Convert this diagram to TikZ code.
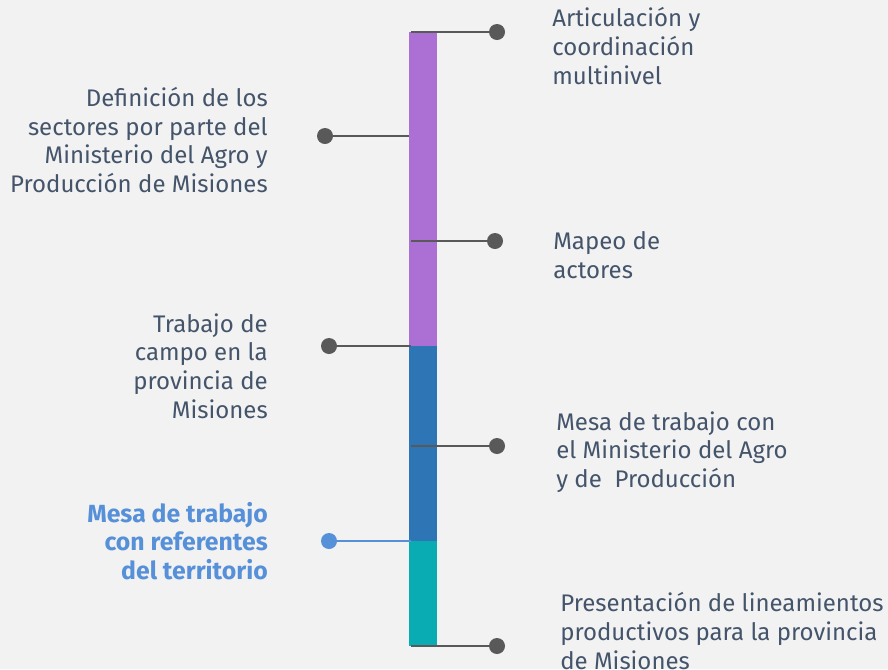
\documentclass[tikz,border=0pt]{standalone}
\usepackage{fontspec}
\setmainfont{Fira Sans}
\definecolor{bg}{HTML}{F2F2F2}
\definecolor{txt}{HTML}{44546A}
\definecolor{hl}{HTML}{5690D8}
\definecolor{dot}{HTML}{595959}
\definecolor{purp}{HTML}{AC6FD3}
\definecolor{blu}{HTML}{2E75B6}
\definecolor{teal}{HTML}{0AACB4}
\begin{document}
\begin{tikzpicture}[x=0.75pt,y=-0.75pt,
  lbl/.style={inner sep=0pt,text=txt,font=\fontsize{18}{21.5}\selectfont},
  rlbl/.style={lbl,align=left,anchor=west},
  llbl/.style={lbl,align=right,anchor=east},
  dotn/.style={circle,fill=dot,inner sep=0pt,minimum size=12pt},
  conn/.style={draw=dot,line width=1.6pt}]
\fill[bg] (0,0) rectangle (888,669);
\useasboundingbox (0,0) rectangle (888,669);
% bar
\fill[purp] (409,32) rectangle (437,346);
\fill[blu] (409,346) rectangle (437,541);
\fill[teal] (409,541) rectangle (437,646);
% coordinates on bar
\coordinate (b1) at (411,32);
\coordinate (b2) at (409,136);
\coordinate (b3) at (411,241);
\coordinate (b4) at (411,346);
\coordinate (b5) at (411,446);
\coordinate (b6) at (411,541);
\coordinate (b7) at (411,646);
% dots
\node[dotn] (d1) at (497,32) {};
\node[dotn] (d2) at (325,136) {};
\node[dotn] (d3) at (495,241) {};
\node[dotn] (d4) at (329,346) {};
\node[dotn] (d5) at (497,446) {};
\node[dotn,fill=hl] (d6) at (329,541) {};
\node[dotn] (d7) at (497,646) {};
\draw[conn] (b1) -- (d1);
\draw[conn] (b2) -- (d2);
\draw[conn] (b3) -- (d3);
\draw[conn] (b4) -- (d4);
\draw[conn] (b5) -- (d5);
\draw[conn,draw=hl] (b6) -- (d6);
\draw[conn] (b7) -- (d7);
% labels
\node[rlbl] (t1) at (552,46) {Articulación y\\coordinación\\multinivel};
\node[llbl] (t2) at (268,140) {Definición de los\\sectores por parte del\\Ministerio del Agro y\\Producción de Misiones};
\node[rlbl] (t3) at (553,255) {Mapeo de\\actores};
\node[llbl] (t4) at (268,366) {Trabajo de\\campo en la\\provincia de\\Misiones};
\node[rlbl] (t5) at (556,452) {Mesa de trabajo con\\el Ministerio del Agro\\y de\ \ Producción};
\node[llbl,text=hl,font=\fontsize{18.6}{21.5}\selectfont\bfseries] (t6) at (268,541) {Mesa de trabajo\\con referentes\\del territorio};
\node[rlbl] (t7) at (560,631) {Presentación de lineamientos\\productivos para la provincia\\de Misiones};
\end{tikzpicture}
\end{document}
